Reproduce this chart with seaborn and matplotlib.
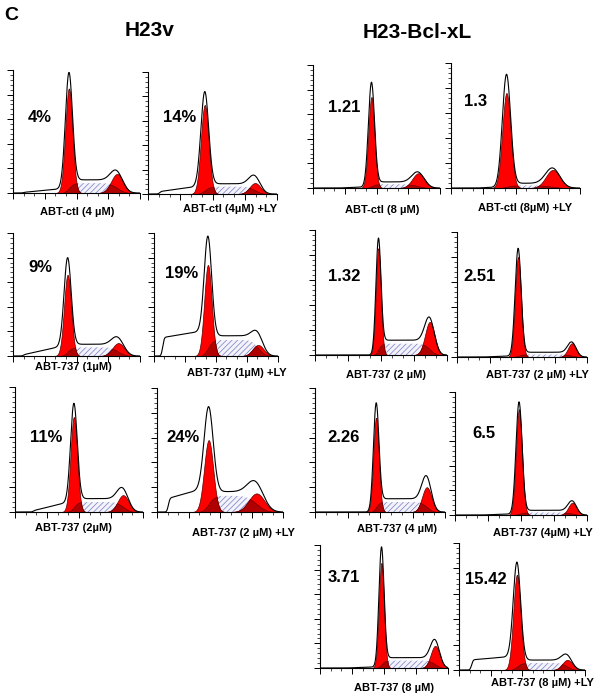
import math
import numpy as np
import matplotlib
matplotlib.use("Agg")
import matplotlib.pyplot as plt
from matplotlib.ticker import MultipleLocator
import seaborn as sns

# ---- data -----------------------------------------------------------------
# panel order: H23v (rows 1-3, ctl / +LY), then H23-Bcl-xL (rows 1-4)
panel_labels = [
    "ABT-ctl (4 µM)", "ABT-ctl (4µM) +LY",
    "ABT-737 (1µM)", "ABT-737 (1µM) +LY",
    "ABT-737 (2µM)", "ABT-737 (2 µM) +LY",
    "ABT-ctl (8 µM)", "ABT-ctl (8µM) +LY",
    "ABT-737 (2 µM)", "ABT-737 (2 µM) +LY",
    "ABT-737 (4 µM)", "ABT-737 (4µM) +LY",
    "ABT-737 (8 µM)", "ABT-737 (8 µM) +LY",
]
percent_labels = ["4%", "14%", "9%", "19%", "11%", "24%",
                  "1.21", "1.3", "1.32", "2.51", "2.26", "6.5", "3.71", "15.42"]

# G1 peak: position, width, fitted height, raw histogram height (axis fractions)
g1_pos = [0.44, 0.44, 0.43, 0.435, 0.46, 0.41, 0.46, 0.43, 0.48, 0.47, 0.47, 0.485, 0.48, 0.46]
g1_sd = [0.028, 0.030, 0.028, 0.030, 0.026, 0.036, 0.024, 0.032, 0.019, 0.023, 0.021, 0.023, 0.020, 0.029]
g1_fit = [0.85, 0.73, 0.66, 0.74, 0.76, 0.58, 0.74, 0.76, 0.855, 0.80, 0.76, 0.86, 0.855, 0.75]
g1_raw = [0.98, 0.84, 0.80, 0.975, 0.87, 0.85, 0.86, 0.91, 0.935, 0.87, 0.88, 0.92, 0.985, 0.85]
# G2 peak
g2_pos = [0.82, 0.83, 0.83, 0.84, 0.845, 0.79, 0.83, 0.79, 0.87, 0.885, 0.86, 0.89, 0.90, 0.86]
g2_sd = [0.047, 0.043, 0.047, 0.044, 0.043, 0.062, 0.048, 0.055, 0.036, 0.032, 0.036, 0.032, 0.035, 0.040]
g2_fit = [0.155, 0.09, 0.105, 0.09, 0.135, 0.15, 0.12, 0.145, 0.265, 0.11, 0.20, 0.10, 0.18, 0.08]
g2_raw = [0.18, 0.15, 0.15, 0.19, 0.19, 0.24, 0.13, 0.16, 0.30, 0.12, 0.29, 0.115, 0.23, 0.12]
# S phase level
s_level = [0.08, 0.06, 0.07, 0.13, 0.08, 0.13, 0.03, 0.02, 0.09, 0.02, 0.08, 0.02, 0.06, 0.055]
# sub-G1 debris: start, level at start, level next to G1
debris_start = [0.08, 0.09, 0.08, 0.07, 0.14, 0.09, 0.2, 0.2, 0.2, 0.2, 0.2, 0.2, 0.2, 0.10]
debris_lo = [0.005, 0.02, 0.01, 0.15, 0.01, 0.11, 0.0, 0.0, 0.0, 0.0, 0.0, 0.0, 0.0, 0.08]
debris_hi = [0.04, 0.07, 0.09, 0.21, 0.09, 0.20, 0.01, 0.01, 0.0, 0.01, 0.0, 0.01, 0.01, 0.11]

# ---- layout (pixels: left, top, right, bottom) -----------------------------
boxes = [
    (13, 70, 140, 193), (148, 72, 277, 194),
    (13, 233, 140, 356), (154, 233, 278, 356),
    (15, 387, 143, 512), (157, 388, 283, 512),
    (313, 65, 440, 188), (451, 63, 580, 188),
    (315, 230, 447, 355), (457, 232, 587, 357),
    (315, 388, 445, 512), (455, 392, 587, 515),
    (320, 545, 448, 668), (459, 543, 585, 670),
]
label_xy = [(77, 212), (230, 209), (73, 367), (237, 373), (73, 528), (243, 533),
            (382, 210), (525, 208), (386, 375), (537, 375), (397, 529), (543, 533),
            (394, 688), (542, 683)]
pct_xy = [(40, 117), (180, 117), (40, 268), (182, 273), (46, 438), (183, 438),
          (344, 107), (476, 101), (344, 277), (480, 277), (344, 437), (484, 433),
          (344, 578), (486, 580)]

W, H = 601, 699

sns.set_style("ticks")
plt.rcParams["font.family"] = ["Liberation Sans", "DejaVu Sans"]
plt.rcParams["hatch.linewidth"] = 0.5
plt.rcParams["text.color"] = "black"
plt.rcParams["axes.edgecolor"] = "black"
plt.rcParams["xtick.color"] = "black"
plt.rcParams["ytick.color"] = "black"

erf = np.vectorize(math.erf)


def gauss(x, mu, sd):
    return np.exp(-0.5 * ((x - mu) / sd) ** 2)


def step(x, mu, sd):
    return 0.5 * (1 + erf((x - mu) / (math.sqrt(2) * sd)))


fig = plt.figure(figsize=(W / 100, H / 100), dpi=100)
fig.patch.set_facecolor("white")

x = np.linspace(0, 1, 500)

for i in range(len(panel_labels)):
    l, t, r, b = boxes[i]
    ax = fig.add_axes([l / W, 1 - b / H, (r - l) / W, (b - t) / H])

    c1, s1 = g1_pos[i], g1_sd[i]
    c2, s2 = g2_pos[i], g2_sd[i]
    peak1 = g1_fit[i] * gauss(x, c1, s1)
    peak2 = g2_fit[i] * gauss(x, c2, s2)
    sphase = s_level[i] * (step(x, c1, s1) - step(x, c2, s2))

    # debris ramp up to the G1 peak
    d0 = debris_start[i]
    frac = np.clip((x - d0) / (c1 - d0), 0, 1)
    debris = (debris_lo[i] + (debris_hi[i] - debris_lo[i]) * frac)
    debris = debris * step(x, d0, 0.01) * (1 - step(x, c1, s1))

    base = debris + sphase * 1.15 + 0.015 * (step(x, c1, s1) - step(x, c2, s2))
    a1 = g1_raw[i] - np.interp(c1, x, base)
    a2 = g2_raw[i] - np.interp(c2, x, base)
    raw = base + a1 * gauss(x, c1, s1) + a2 * gauss(x, c2, s2)

    ax.fill_between(x, 0, sphase, facecolor="#f2f3fb", edgecolor="#7b7bc4",
                    hatch="//////", linewidth=0)
    ax.fill_between(x, 0, peak1, facecolor="#ff0000", edgecolor="#5a0000", linewidth=0.5)
    ax.fill_between(x, 0, peak2, facecolor="#ff0000", edgecolor="#5a0000", linewidth=0.5)
    ax.fill_between(x, 0, np.minimum(sphase, peak1 + peak2), facecolor="#b00000",
                    edgecolor="#5a0000", linewidth=0.4)
    sns.lineplot(x=x, y=raw, ax=ax, color="black", linewidth=0.8)

    ax.set_xlim(0, 1)
    ax.set_ylim(0, 1)
    ax.set_facecolor("none")
    for side in ["top", "right"]:
        ax.spines[side].set_visible(False)
    for side in ["left", "bottom"]:
        ax.spines[side].set_linewidth(0.8)
    ax.yaxis.set_major_locator(MultipleLocator(0.2))
    ax.yaxis.set_minor_locator(MultipleLocator(0.04))
    ax.xaxis.set_major_locator(MultipleLocator(0.25))
    ax.xaxis.set_minor_locator(MultipleLocator(1 / 12))
    ax.tick_params(which="major", direction="out", length=4, width=0.7,
                   labelleft=False, labelbottom=False)
    ax.tick_params(which="minor", direction="out", length=2, width=0.5)
    ax.set_xlabel("")
    ax.set_ylabel("")

    lx, ly = label_xy[i]
    fig.text(lx / W, 1 - ly / H, panel_labels[i], ha="center", va="center",
             fontsize=8, fontweight="bold")
    px, py = pct_xy[i]
    fig.text(px / W, 1 - py / H, percent_labels[i], ha="center", va="center",
             fontsize=12, fontweight="bold")

fig.text(11 / W, 1 - 15 / H, "C", ha="center", va="center", fontsize=14, fontweight="bold")
fig.text(150 / W, 1 - 30 / H, "H23v", ha="center", va="center", fontsize=15, fontweight="bold")
fig.text(417 / W, 1 - 32 / H, "H23-Bcl-xL", ha="center", va="center", fontsize=15,
         fontweight="bold")

fig.savefig("out.png", dpi=100, facecolor="white")
